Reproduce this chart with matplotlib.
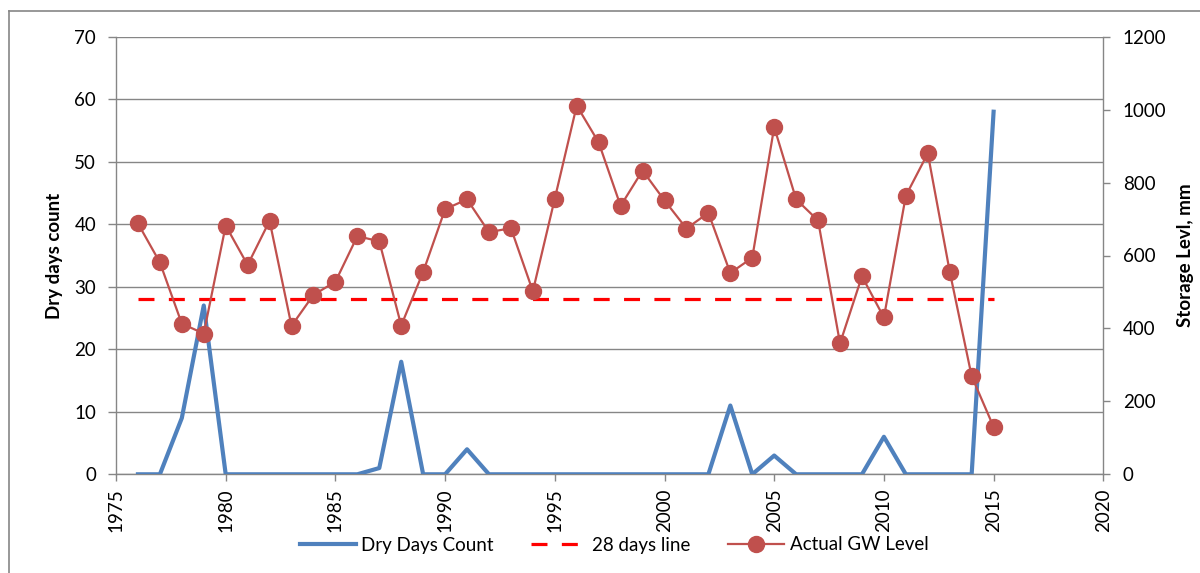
import matplotlib.pyplot as plt
from matplotlib.lines import Line2D

plt.rcParams['font.family'] = ['Lato', 'DejaVu Sans']

# yearly series
years = list(range(1976, 2016))
dry_days = [0, 0, 9, 27, 0, 0, 0, 0, 0, 0,
            0, 1, 18, 0, 0, 4, 0, 0, 0, 0,
            0, 0, 0, 0, 0, 0, 0, 11, 0, 3,
            0, 0, 0, 0, 6, 0, 0, 0, 0, 58]
gw_level = [688, 581, 413, 386, 682, 574, 695, 407, 492, 528,
            653, 639, 408, 555, 727, 754, 664, 675, 502, 756,
            1011, 910, 736, 833, 751, 674, 717, 552, 594, 952,
            754, 696, 359, 543, 430, 764, 880, 556, 269, 130]
threshold = 28

x_ticks = list(range(1975, 2021, 5))
left_ticks = list(range(0, 71, 10))
right_ticks = list(range(0, 1201, 200))

grey = '#868686'
blue = '#4F81BD'
brick = '#C0504D'
fs = 13.5

fig = plt.figure(figsize=(12, 5.73), dpi=100)
ax = fig.add_axes([116 / 1200, 1 - 474.3 / 573, 987.3 / 1200, 437.6 / 573])
ax2 = ax.twinx()

l1, = ax.plot(years, dry_days, color=blue, lw=3.0, label='Dry Days Count', zorder=3)
l2, = ax.plot(years, [threshold] * len(years), color='#FF0000', lw=2.3,
              dashes=(5, 4.5), label='28 days line', zorder=4)
l3, = ax2.plot(years, gw_level, color=brick, lw=1.6, marker='o', markersize=11.5,
               label='Actual GW Level', zorder=5)

ax.set_xlim(1975, 2020)
ax.set_ylim(0, 70)
ax2.set_ylim(0, 1200)
ax.set_xticks(x_ticks)
ax.set_yticks(left_ticks)
ax2.set_yticks(right_ticks)
ax.set_xticklabels([str(t) for t in x_ticks], rotation=90)

ax.grid(axis='y', color=grey, lw=1.0)
ax.set_axisbelow(True)

for a in (ax, ax2):
    a.spines['top'].set_visible(False)
    for side in ('left', 'right', 'bottom'):
        a.spines[side].set_color(grey)
        a.spines[side].set_linewidth(1.0)
ax.spines['right'].set_visible(False)
ax2.spines['left'].set_visible(False)
ax2.spines['bottom'].set_visible(False)

ax.tick_params(axis='y', length=5.8, width=1, color=grey, labelsize=fs, pad=8.5)
ax.tick_params(axis='x', length=5, width=1, color=grey, labelsize=fs, pad=5)
ax2.tick_params(axis='y', length=5, width=1, color=grey, labelsize=fs, pad=9)

ax.set_ylabel('Dry days count', fontsize=fs, fontweight='bold', labelpad=8)
ax2.set_ylabel('Storage Levl, mm', fontsize=fs, fontweight='bold', labelpad=8)

fig.legend(handles=[l1, l2, l3], loc='center', bbox_to_anchor=(614 / 1200, 1 - 545 / 573),
           ncol=3, frameon=False, fontsize=fs, handlelength=3.0, handletextpad=0.27,
           columnspacing=2.0)

# chart area border (extends past the figure on the right and bottom)
fig.add_artist(Line2D([9 / 1200, 9 / 1200], [1 - 11 / 573, 0], color=grey, lw=1.2,
                      transform=fig.transFigure))
fig.add_artist(Line2D([9 / 1200, 1], [1 - 11 / 573, 1 - 11 / 573], color=grey, lw=1.2,
                      transform=fig.transFigure))

fig.savefig('out.png', dpi=100)
